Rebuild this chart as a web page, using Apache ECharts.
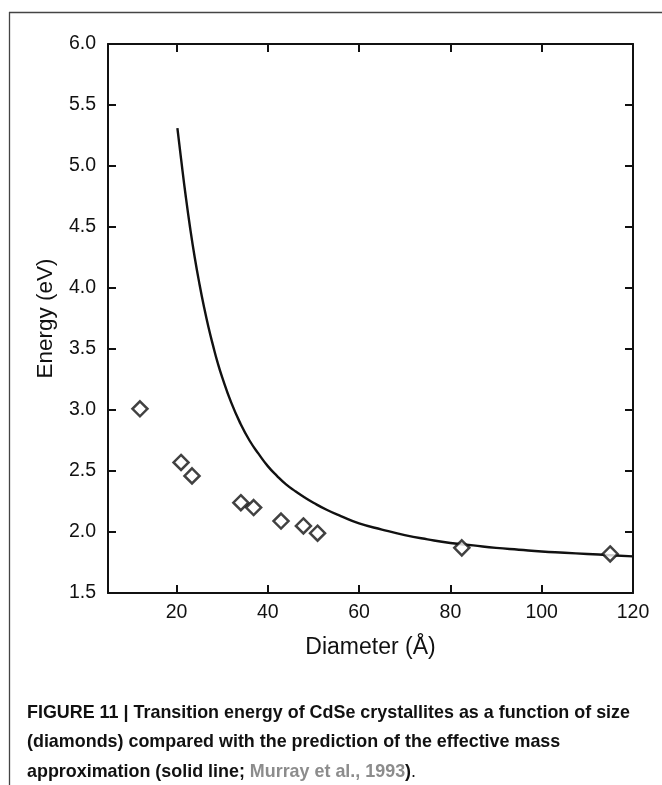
<!DOCTYPE html>
<html><head><meta charset="utf-8">
<script src="https://cdn.jsdelivr.net/npm/echarts/dist/echarts.min.js"></script>
<style>html,body{margin:0;padding:0;background:#fff}#c{width:662px;height:785px}</style>
</head><body><div id="c"></div>
<script>
// Measured diamonds (diameter in Å, energy in eV)
const diamondX = [12.0, 21.0, 23.4, 34.1, 36.9, 42.9, 47.8, 50.9, 82.5, 115.0];
const diamondY = [3.01, 2.57, 2.46, 2.24, 2.20, 2.09, 2.05, 1.99, 1.87, 1.82];
// Effective mass approximation curve
const curveX = [20.2, 21, 22, 23, 24, 25, 26, 27, 28, 29, 30, 32, 34, 36, 38, 40, 42, 44, 46, 48, 50, 53, 56, 60, 65, 70, 75, 80, 85, 90, 95, 100, 105, 110, 115, 120];
const curveY = [5.31, 5.06, 4.76, 4.49, 4.25, 4.04, 3.85, 3.68, 3.53, 3.39, 3.27, 3.06, 2.89, 2.75, 2.64, 2.54, 2.46, 2.39, 2.335, 2.285, 2.24, 2.18, 2.13, 2.07, 2.02, 1.975, 1.94, 1.91, 1.89, 1.87, 1.855, 1.84, 1.83, 1.82, 1.81, 1.80];
const xTickValues = [20, 40, 60, 80, 100];
const xLabelValues = [20, 40, 60, 80, 100, 120];
const xMin = 5, xMax = 120;
const yMin = 1.5, yMax = 6.0, yStep = 0.5;
const xName = 'Diameter (Å)';
const yName = 'Energy (eV)';
const captionLines = [
  'FIGURE 11 | Transition energy of CdSe crystallites as a function of size',
  '(diamonds) compared with the prediction of the effective mass',
  'approximation (solid line; ', 'Murray et al., 1993', ')', '.'
];

const fam = "'Liberation Sans', Arial, sans-serif";
function measure(font, text) {
  const c = document.createElement('canvas').getContext('2d');
  c.font = font; return c.measureText(text).width;
}
const capSize = 18.5;
const w1 = measure('bold ' + capSize + 'px ' + fam, captionLines[0]);
const sx = 603 / w1;

const chart = echarts.init(document.getElementById('c'), null, {renderer: 'canvas'});
const lab = {color: '#111', fontFamily: fam, fontSize: 19.5};
const lineCol = '#111';
const option = {
  backgroundColor: '#fff',
  animation: false,
  grid: {left: 108, top: 44, width: 525, height: 549},
  xAxis: [{
    type: 'value', min: xMin, max: xMax, position: 'bottom',
    name: xName, nameLocation: 'middle', nameGap: 43,
    nameTextStyle: {color: '#111', fontFamily: fam, fontSize: 23},
    axisLine: {show: true, lineStyle: {color: lineCol, width: 2}},
    axisTick: {show: true, inside: true, length: 8, customValues: xTickValues, lineStyle: {color: lineCol, width: 2}},
    axisLabel: Object.assign({margin: 10, customValues: xLabelValues}, lab),
    splitLine: {show: false}
  }, {
    type: 'value', min: xMin, max: xMax, position: 'top',
    axisLine: {show: true, lineStyle: {color: lineCol, width: 2}},
    axisTick: {show: true, inside: true, length: 8, customValues: xTickValues, lineStyle: {color: lineCol, width: 2}},
    axisLabel: {show: false},
    splitLine: {show: false}
  }],
  yAxis: [{
    type: 'value', min: yMin, max: yMax, interval: yStep, position: 'left',
    name: yName, nameLocation: 'middle', nameGap: 51,
    nameTextStyle: {color: '#111', fontFamily: fam, fontSize: 22.5},
    axisLine: {show: true, lineStyle: {color: lineCol, width: 2}},
    axisTick: {show: true, inside: true, length: 8, lineStyle: {color: lineCol, width: 2}},
    axisLabel: Object.assign({margin: 12, formatter: v => v.toFixed(1)}, lab),
    splitLine: {show: false}
  }, {
    type: 'value', min: yMin, max: yMax, interval: yStep, position: 'right',
    axisLine: {show: true, lineStyle: {color: lineCol, width: 2}},
    axisTick: {show: true, inside: true, length: 8, lineStyle: {color: lineCol, width: 2}},
    axisLabel: {show: false},
    splitLine: {show: false}
  }],
  series: [{
    type: 'line', xAxisIndex: 0, yAxisIndex: 0,
    data: curveX.map((x, i) => [x, curveY[i]]),
    smooth: 0.5, showSymbol: false, symbol: 'none',
    lineStyle: {color: '#111', width: 2.4}, z: 2
  }, {
    type: 'scatter', xAxisIndex: 0, yAxisIndex: 0,
    data: diamondX.map((x, i) => [x, diamondY[i]]),
    symbol: 'diamond', symbolSize: [15, 15],
    itemStyle: {color: '#fff', borderColor: '#111', borderWidth: 2.5}, z: 3
  }],
  graphic: [
    {type: 'line', shape: {x1: 9, y1: 12.5, x2: 662, y2: 12.5}, style: {stroke: '#444', lineWidth: 1.3}, silent: true},
    {type: 'line', shape: {x1: 9.5, y1: 12, x2: 9.5, y2: 785}, style: {stroke: '#444', lineWidth: 1.3}, silent: true},
    {type: 'text', x: 27, y: 698, scaleX: sx, scaleY: 1, silent: true,
      style: {
        x: 0, y: 0, verticalAlign: 'top', align: 'left',
        text: '{b|' + captionLines[0] + '}\n{b|' + captionLines[1] + '}\n{b|' + captionLines[2] + '}{g|' + captionLines[3] + '}{b|' + captionLines[4] + '}{n|' + captionLines[5] + '}',
        rich: {
          b: {fontFamily: fam, fontWeight: 'bold', fontSize: capSize, fill: '#111', lineHeight: 29.5},
          g: {fontFamily: fam, fontWeight: 'bold', fontSize: capSize, fill: '#8c8c8c', lineHeight: 29.5},
          n: {fontFamily: fam, fontWeight: 'normal', fontSize: capSize, fill: '#111', lineHeight: 29.5}
        }
      }
    }
  ]
};
chart.setOption(option);
</script>
</body></html>
